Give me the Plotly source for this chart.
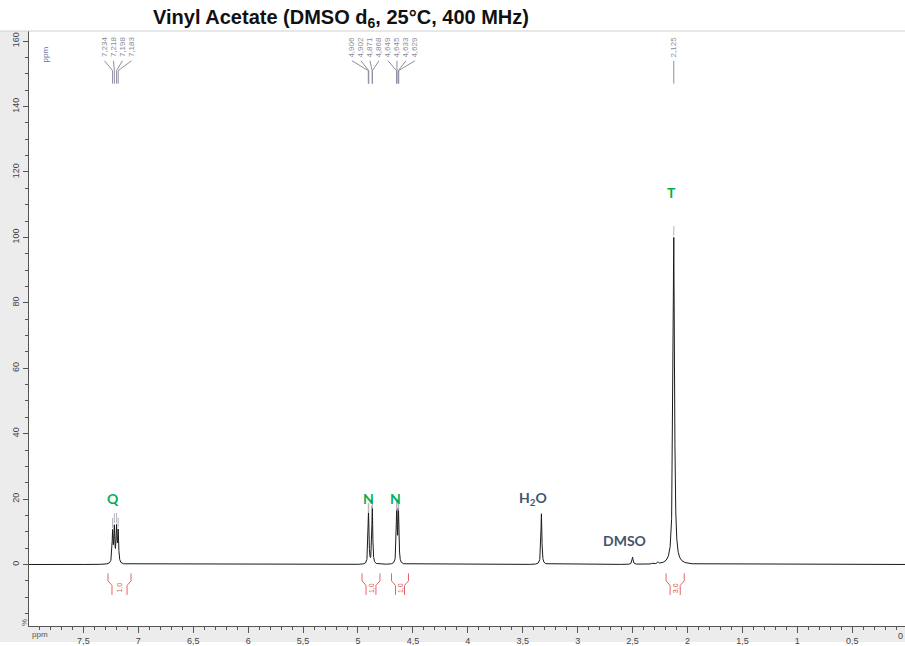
import numpy as np
import plotly.graph_objects as go

# ---------------- data ----------------
# picked peaks (ppm) and line heights (%), half widths (ppm)
PEAK_PPM = [7.234, 7.218, 7.198, 7.183,
            4.906, 4.902, 4.871, 4.868,
            4.649, 4.645, 4.633, 4.629,
            3.330, 2.500, 2.320, 2.270, 2.125]
PEAK_HEIGHT = [9.5, 10.5, 10.5, 9.5,
               10.0, 10.0, 10.0, 10.0,
               10.0, 10.0, 10.0, 10.0,
               15.5, 2.2, 0.3, 0.5, 100.0]
PEAK_HWHM = [0.005, 0.005, 0.005, 0.005,
             0.004, 0.004, 0.004, 0.004,
             0.004, 0.004, 0.004, 0.004,
             0.005, 0.006, 0.006, 0.006, 0.008]

# peak-picking labels (groups)
LABEL_GROUPS = [
    ["7,234", "7,218", "7,198", "7,183"],
    ["4,906", "4,902", "4,871", "4,868", "4,649", "4,645", "4,633", "4,629"],
    ["2,125"],
]
LABEL_PPM_GROUPS = [
    [7.234, 7.218, 7.198, 7.183],
    [4.906, 4.902, 4.871, 4.868, 4.649, 4.645, 4.633, 4.629],
    [2.125],
]
LABEL_CENTER = [7.185, 4.768, 2.125]   # ppm centre of each label fan

# integrals
INT_LEFT = [7.276, 4.963, 4.695, 2.195]
INT_RIGHT = [7.066, 4.800, 4.540, 2.030]
INT_TEXT = ["1,0", "1,0", "1,0", "3,0"]

# assignments
ASSIGN_TEXT = ["Q", "N", "N", "H<sub>2</sub>O", "DMSO", "T"]
ASSIGN_X = [7.23, 4.90, 4.654, 3.407, 2.577, 2.15]
ASSIGN_Y = [20.3, 20.3, 20.3, 20.3, 7.3, 113.6]
ASSIGN_COLOR = ["#00b050", "#00b050", "#00b050", "#44546a", "#44546a", "#00b050"]

X_RANGE = [7.995, 0.02]
Y_RANGE = [-18.8, 163.1]

# ---------------- spectrum ----------------
ppm = np.union1d(np.arange(-0.05, 8.05, 0.0005), np.array(PEAK_PPM))
inten = np.zeros_like(ppm)
for c, h, w in zip(PEAK_PPM, PEAK_HEIGHT, PEAK_HWHM):
    inten += h * w**2 / ((ppm - c) ** 2 + w**2)

def spec_at(x):
    return sum(h * w**2 / ((x - c) ** 2 + w**2) for c, h, w in zip(PEAK_PPM, PEAK_HEIGHT, PEAK_HWHM))

fig = go.Figure()
fig.add_trace(go.Scatter(x=ppm, y=inten, mode="lines",
                         line=dict(color="#1a1a1a", width=1), hoverinfo="skip"))

# peak markers above picked peaks
mx, my = [], []
for grp in LABEL_PPM_GROUPS:
    for p in grp:
        top = spec_at(p)
        mx += [p, p, None]
        my += [top + 0.5, top + 3.5, None]
fig.add_trace(go.Scatter(x=mx, y=my, mode="lines",
                         line=dict(color="#b4b4c0", width=1), hoverinfo="skip"))

# label leader lines
px_ppm = 876 / (X_RANGE[0] - X_RANGE[1])
spacing = 9.0 / px_ppm
lx, ly = [], []
label_pos = []
for texts, ppms, cen in zip(LABEL_GROUPS, LABEL_PPM_GROUPS, LABEL_CENTER):
    n = len(texts)
    for i, (t, p) in enumerate(zip(texts, ppms)):
        xl = cen + ((n - 1) / 2 - i) * spacing
        label_pos.append((xl, t))
        lx += [xl, p, p, None]
        ly += [154.0, 151.0, 147.0, None]
fig.add_trace(go.Scatter(x=lx, y=ly, mode="lines",
                         line=dict(color="#8e8ea0", width=1), hoverinfo="skip"))

for xl, t in label_pos:
    fig.add_annotation(x=xl, y=154.5, text=t, showarrow=False, textangle=-90,
                       xanchor="center", yanchor="bottom",
                       font=dict(family="Liberation Sans", size=8, color="#8a8a98"))

# integrals
ix, iy = [], []
inner = 4.0 / px_ppm
for l, r, t in zip(INT_LEFT, INT_RIGHT, INT_TEXT):
    ix += [l, l, l - inner, l - inner, None, r, r, r + inner, r + inner, None]
    iy += [-2.7, -5.0, -6.4, -9.3, None, -2.7, -5.0, -6.4, -9.3, None]
    fig.add_annotation(x=(l + r) / 2, y=-7.2, text=t, showarrow=False, textangle=-90,
                       font=dict(family="Liberation Sans", size=7, color="#d9534f"))
fig.add_trace(go.Scatter(x=ix, y=iy, mode="lines",
                         line=dict(color="#e06666", width=1), hoverinfo="skip"))

# assignments
for t, x, y, c in zip(ASSIGN_TEXT, ASSIGN_X, ASSIGN_Y, ASSIGN_COLOR):
    fig.add_annotation(x=x, y=y, text="<b>%s</b>" % t, showarrow=False,
                       font=dict(family="Lato", size=14, color=c))

# axis decorations
fig.add_annotation(xref="paper", yref="paper", x=10 / 876, y=1 - 14 / 599, text="ppm",
                   showarrow=False, textangle=-90,
                   font=dict(family="Liberation Sans", size=8, color="#6c6c9c"))
fig.add_annotation(xref="paper", yref="paper", x=-11 / 876, y=-2 / 599, text="%",
                   showarrow=False, textangle=-90, yanchor="bottom",
                   font=dict(family="Liberation Sans", size=8, color="#555"))
fig.add_annotation(xref="paper", yref="paper", x=1 / 876, y=-9 / 599, text="ppm",
                   showarrow=False, xanchor="left", yanchor="middle",
                   font=dict(family="Liberation Sans", size=8, color="#555"))
fig.add_annotation(xref="paper", yref="paper", x=1.0, y=-10 / 599, text="0",
                   showarrow=False, xanchor="right", yanchor="middle",
                   font=dict(family="Liberation Sans", size=9, color="#444"))

# gray frame strips
fig.add_shape(type="rect", xref="paper", yref="paper", x0=-29 / 876, x1=0,
              y0=-16 / 599, y1=1, fillcolor="#ececec", line_width=0, layer="below")
fig.add_shape(type="rect", xref="paper", yref="paper", x0=-29 / 876, x1=1.01,
              y0=-16 / 599, y1=0, fillcolor="#ececec", line_width=0, layer="below")
fig.add_shape(type="line", xref="paper", yref="paper", x0=-29 / 876, x1=1.01,
              y0=1, y1=1, line=dict(color="#d0d0d0", width=1))

fig.update_layout(
    width=905, height=646,
    margin=dict(l=29, r=0, t=31, b=16),
    paper_bgcolor="white", plot_bgcolor="white",
    showlegend=False,
    separators=",.",
    title=dict(text="<b>Vinyl Acetate (DMSO d<sub>6</sub>, 25°C, 400 MHz)</b>",
               x=341 / 905, xanchor="center", y=1 - 17 / 646, yanchor="middle",
               yref="container",
               font=dict(family="Liberation Sans", size=20, color="#111")),
    xaxis=dict(range=X_RANGE, dtick=0.5, tick0=0, showgrid=False, zeroline=False,
               showline=True, linecolor="#555", linewidth=1,
               ticks="outside", ticklen=6, tickcolor="#555",
               minor=dict(dtick=0.1, ticks="outside", ticklen=3, tickcolor="#555"),
               tickfont=dict(family="Liberation Sans", size=9, color="#444")),
    yaxis=dict(range=Y_RANGE, dtick=20, tick0=0, showgrid=False, zeroline=False,
               showline=True, linecolor="#555", linewidth=1,
               ticks="outside", ticklen=5, tickcolor="#555", tickangle=-90,
               minor=dict(dtick=5, ticks="outside", ticklen=3, tickcolor="#555"),
               tickfont=dict(family="Liberation Sans", size=9, color="#444")),
)

fig.write_html("out.html")
